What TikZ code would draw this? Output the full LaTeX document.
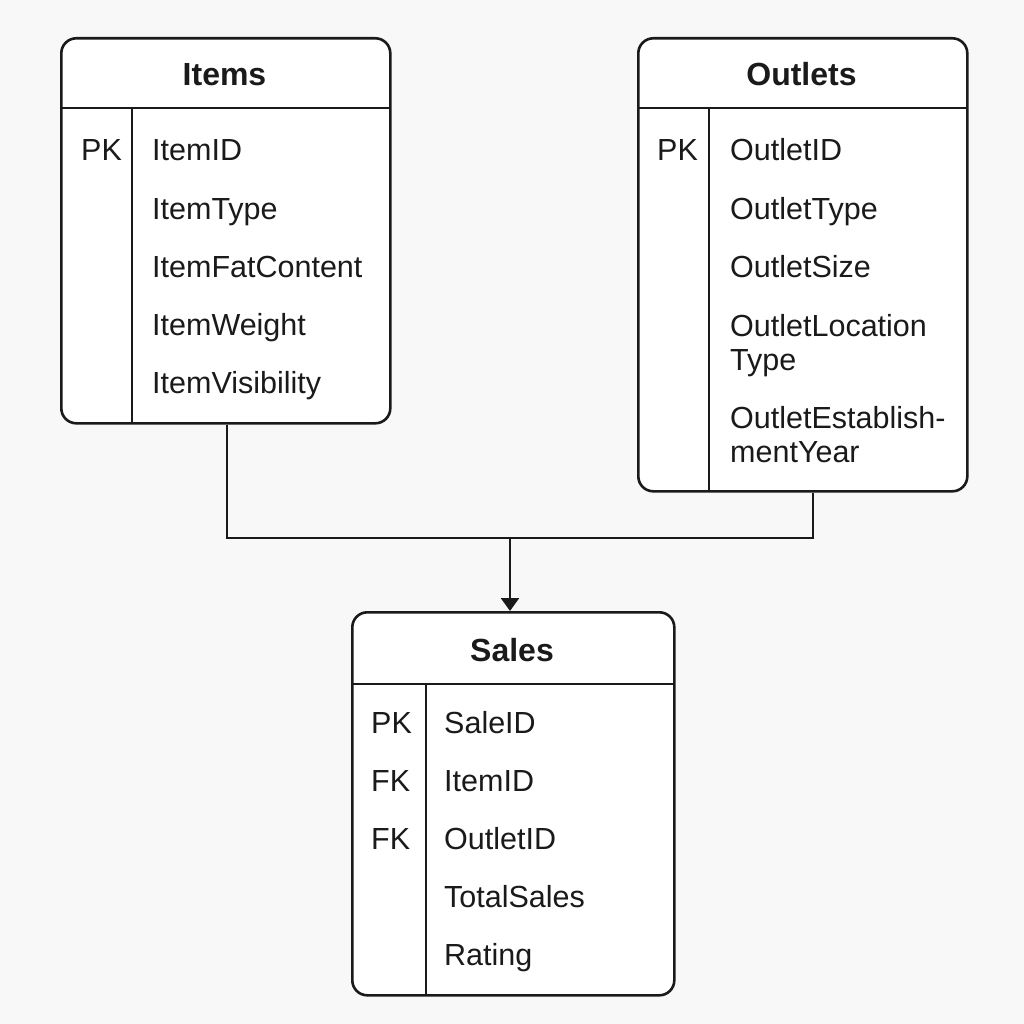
\documentclass[tikz,border=0pt]{standalone}
\usepackage{fontspec}
\setmainfont{Liberation Sans}
\usetikzlibrary{arrows.meta}
\definecolor{bg}{HTML}{F8F8F8}
\definecolor{ink}{HTML}{1A1A1A}
\begin{document}
\begin{tikzpicture}[x=1pt,y=-1pt,
  tbl/.style={draw=ink, fill=white, line width=2.6pt, rounded corners=15pt, rectangle, inner sep=0pt, anchor=north west},
  sep/.style={draw=ink, line width=2.6pt},
  hdr/.style={font=\fontsize{32}{36}\selectfont\bfseries, text=ink, anchor=base, inner sep=0pt},
  key/.style={font=\fontsize{30.5}{34}\selectfont, text=ink, anchor=base west, inner sep=0pt},
  fld/.style={font=\fontsize{30.5}{34}\selectfont, text=ink, anchor=base west, inner sep=0pt},
  conn/.style={draw=ink, line width=2.6pt},
]
\fill[bg] (0,0) rectangle (1024,1024);
\useasboundingbox (0,0) rectangle (1024,1024);

% Items
\node[tbl, minimum width=329pt, minimum height=385pt] (items) at (60,37) {};
\draw[sep] (60,108) -- (389,108);
\draw[sep] (132,108) -- (132,422);
\node[hdr] (itemsH) at (224.5,86) {Items};
\node[key] (ik1) at (81,161) {PK};
\node[fld] (if1) at (152,161) {ItemID};
\node[fld] (if2) at (152,219) {ItemType};
\node[fld] (if3) at (152,277) {ItemFatContent};
\node[fld] (if4) at (152,335) {ItemWeight};
\node[fld] (if5) at (152,393) {ItemVisibility};

% Outlets
\node[tbl, minimum width=329pt, minimum height=453pt] (outlets) at (637,37) {};
\draw[sep] (637,108) -- (966,108);
\draw[sep] (709,108) -- (709,490);
\node[hdr] (outletsH) at (801.5,86) {Outlets};
\node[key] (ok1) at (657,161) {PK};
\node[fld] (of1) at (730,161) {OutletID};
\node[fld] (of2) at (730,219) {OutletType};
\node[fld] (of3) at (730,277) {OutletSize};
\node[fld] (of4a) at (730,336) {OutletLocation};
\node[fld] (of4b) at (730,370) {Type};
\node[fld] (of5a) at (730,428) {OutletEstablish-};
\node[fld] (of5b) at (730,462) {mentYear};

% Sales
\node[tbl, minimum width=322pt, minimum height=383pt] (sales) at (351,611) {};
\draw[sep] (351,684) -- (673,684);
\draw[sep] (426,684) -- (426,994);
\node[hdr] (salesH) at (512,661) {Sales};
\node[key] (sk1) at (371,733) {PK};
\node[key] (sk2) at (371,791) {FK};
\node[key] (sk3) at (371,849) {FK};
\node[fld] (sf1) at (444,733) {SaleID};
\node[fld] (sf2) at (444,791) {ItemID};
\node[fld] (sf3) at (444,849) {OutletID};
\node[fld] (sf4) at (444,907) {TotalSales};
\node[fld] (sf5) at (444,965) {Rating};

% connectors
\coordinate (join) at (510,538);
\draw[conn] (items.south -| 227,0) |- (join);
\draw[conn] (outlets.south -| 813,0) |- (join);
\draw[conn, -{Triangle[length=13pt,width=18pt]}] (join) -- (sales.north -| join);
\end{tikzpicture}
\end{document}
